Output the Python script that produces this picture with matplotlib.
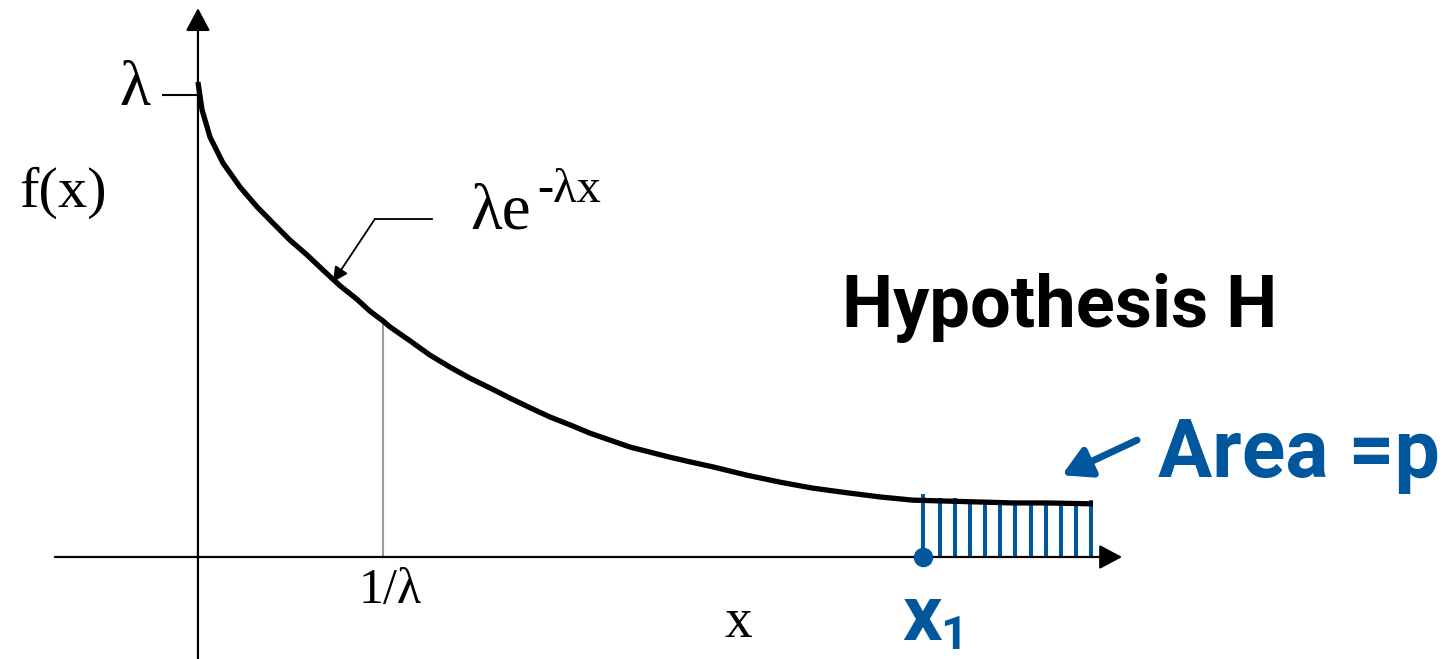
import matplotlib
matplotlib.use("Agg")
import matplotlib.pyplot as plt

# Density curve, x in units of 1/lambda, y in units of lambda
curve_x = [0.000, 0.022, 0.065, 0.135, 0.227, 0.319, 0.405, 0.497, 0.589, 0.676,
           0.768, 0.859, 0.930, 1.000, 1.038, 1.146, 1.254, 1.362, 1.470, 1.578,
           1.686, 1.795, 1.903, 2.011, 2.119, 2.227, 2.335, 2.443, 2.551, 2.659,
           2.784, 2.968, 3.146, 3.324, 3.508, 3.686, 3.865, 4.049, 4.227, 4.405,
           4.589, 4.838]
curve_y = [1.028, 0.968, 0.909, 0.853, 0.801, 0.758, 0.723, 0.686, 0.654, 0.621,
           0.587, 0.558, 0.532, 0.511, 0.498, 0.468, 0.437, 0.411, 0.387, 0.366,
           0.344, 0.323, 0.303, 0.286, 0.268, 0.253, 0.238, 0.227, 0.216, 0.206,
           0.195, 0.177, 0.162, 0.149, 0.139, 0.130, 0.123, 0.121, 0.119, 0.117,
           0.117, 0.115]

# Hatched tail area beyond x1
x1 = 3.919
stem_x = [3.919, 4.011, 4.092, 4.173, 4.254, 4.335, 4.416, 4.503, 4.584, 4.665,
          4.746, 4.827]
stem_y = [0.136, 0.128, 0.128, 0.119, 0.119, 0.119, 0.119, 0.113, 0.113, 0.119,
          0.119, 0.123]

mean_x = 1.0   # 1/lambda
lam = 1.0      # f(0)

BLUE = "#00579e"
SERIF = "Liberation Serif"
SANS = "Roboto"

fig = plt.figure(figsize=(14.51, 6.59), dpi=100)
ax = fig.add_axes([0, 0, 1, 1])
ax.set_xlim(-1.070, 6.773)
ax.set_ylim(-0.2208, 1.2056)
ax.axis("off")

# axes with arrow heads
ax.annotate("", xy=(4.995, 0), xytext=(-0.773, 0),
            arrowprops=dict(arrowstyle="-|>,head_length=14,head_width=7.5",
                            mutation_scale=1, lw=1.6, color="black",
                            shrinkA=0, shrinkB=0))
ax.annotate("", xy=(0, 1.188), xytext=(0, -0.2208),
            arrowprops=dict(arrowstyle="-|>,head_length=14,head_width=7.5",
                            mutation_scale=1, lw=1.6, color="black",
                            shrinkA=0, shrinkB=0))

# lambda tick on the y axis
ax.plot([-0.189, 0], [lam, lam], color="black", lw=1.5)
ax.text(-0.341, 0.978, "λ", fontsize=46, family=SERIF, ha="center", va="baseline")
ax.text(-0.73, 0.788, "f(x)", fontsize=42, family=SERIF, ha="center", va="center")

# 1/lambda marker
ax.plot([mean_x, mean_x], [0, curve_y[curve_x.index(mean_x)]], color="#999999", lw=1.5)
ax.text(1.038, -0.0996, "1/λ", fontsize=36, family=SERIF, ha="center", va="baseline")
ax.text(2.919, -0.173, "x", fontsize=40, family=SERIF, ha="center", va="baseline")

# tail stems and x1 point
ax.vlines(stem_x, 0, stem_y, color=BLUE, lw=2.9, zorder=2)
ax.plot([x1], [0], "o", color=BLUE, markersize=13, zorder=4)

# density curve
ax.plot(curve_x, curve_y, color="black", lw=3.8, solid_joinstyle="round",
        solid_capstyle="butt", zorder=3)

# formula label with leader arrow
ax.plot([1.265, 0.957], [0.732, 0.732], color="black", lw=1.3)
ax.annotate("", xy=(0.730, 0.595), xytext=(0.957, 0.732),
            arrowprops=dict(arrowstyle="-|>,head_length=9,head_width=4.5",
                            mutation_scale=1, lw=1.3, color="black",
                            shrinkA=0, shrinkB=0))
ax.text(1.470, 0.712, "λe", fontsize=47, family=SERIF, ha="left", va="baseline")
ax.text(1.832, 0.768, "-λx", fontsize=35, family=SERIF, ha="left", va="baseline")

# hypothesis and area labels
ax.text(3.481, 0.498, "Hypothesis H", fontsize=52, family=SANS, weight="bold",
        ha="left", va="baseline", color="black")
ax.text(5.189, 0.173, "Area =p", fontsize=58, family=SANS, weight="bold",
        ha="left", va="baseline", color=BLUE)
ax.annotate("", xy=(4.670, 0.177), xytext=(5.076, 0.253),
            arrowprops=dict(arrowstyle="-|>,head_length=17,head_width=9.5",
                            mutation_scale=1, lw=5, color=BLUE,
                            shrinkA=0, shrinkB=0))

ax.text(3.805, -0.180, "x", fontsize=56, family=SANS, weight="bold",
        ha="left", va="baseline", color=BLUE)
ax.text(4.011, -0.200, "1", fontsize=34, family=SANS, weight="bold",
        ha="left", va="baseline", color=BLUE)

fig.savefig("out.png", dpi=100)
